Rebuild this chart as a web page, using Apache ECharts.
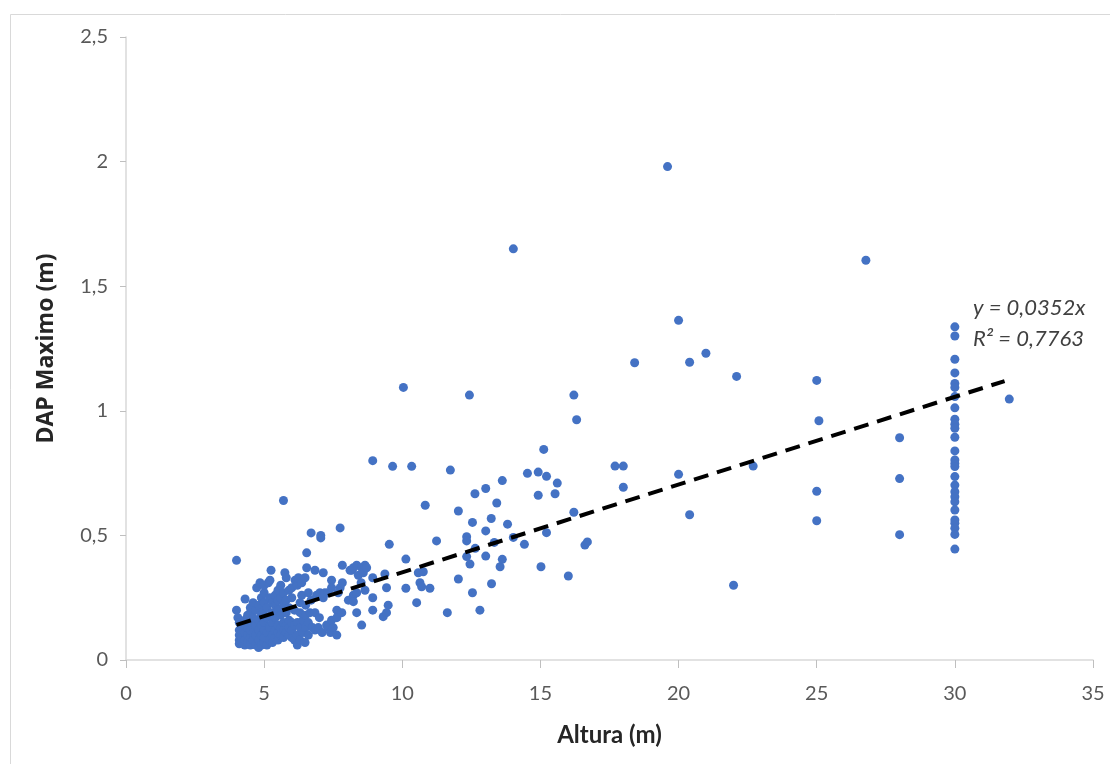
<!DOCTYPE html>
<html>
<head>
<meta charset="utf-8">
<script src="https://cdn.jsdelivr.net/npm/echarts@6/dist/echarts.min.js"></script>
<style>
  html, body { margin: 0; padding: 0; background: #fff; }
  #chart { width: 1110px; height: 764px; }
</style>
</head>
<body>
<div id="chart"></div>
<script>
// altura (m), dap maximo (m)
var pontosDensos = [
  [4.0,0.40],[4.0,0.20],[4.05,0.17],[4.1,0.15],[4.1,0.12],[4.1,0.10],[4.1,0.08],[4.1,0.065],
  [4.2,0.07],[4.2,0.09],[4.2,0.11],[4.2,0.13],[4.3,0.16],[4.31,0.245],[4.3,0.06],[4.3,0.08],[4.3,0.11],[4.3,0.14],
  [4.4,0.07],[4.4,0.10],[4.4,0.13],[4.4,0.18],[4.5,0.06],[4.5,0.09],[4.5,0.12],[4.5,0.15],[4.5,0.19],[4.5,0.21],
  [4.6,0.08],[4.6,0.11],[4.6,0.17],[4.6,0.23],[4.7,0.06],[4.7,0.10],[4.7,0.14],[4.7,0.20],[4.73,0.29],
  [4.8,0.05],[4.8,0.08],[4.8,0.12],[4.8,0.16],[4.8,0.22],[4.85,0.31],[4.9,0.06],[4.9,0.10],[4.9,0.14],[4.9,0.18],[4.9,0.25],
  [5.0,0.07],[5.0,0.09],[5.0,0.12],[5.0,0.15],[5.0,0.20],[5.0,0.23],[5.0,0.27],[5.0,0.30],
  [5.1,0.06],[5.1,0.11],[5.1,0.17],[5.1,0.21],[5.15,0.31],[5.2,0.08],[5.2,0.13],[5.2,0.25],[5.21,0.32],[5.25,0.36],
  [5.3,0.07],[5.3,0.10],[5.3,0.15],[5.3,0.19],[5.3,0.23],[5.4,0.09],[5.4,0.12],[5.4,0.17],[5.4,0.22],[5.4,0.26],
  [5.5,0.08],[5.5,0.11],[5.5,0.14],[5.5,0.20],[5.5,0.24],[5.5,0.28],[5.6,0.10],[5.6,0.13],[5.6,0.18],[5.6,0.25],[5.6,0.30],
  [5.7,0.64],[5.7,0.09],[5.7,0.12],[5.7,0.15],[5.7,0.22],[5.7,0.27],[5.75,0.35],
  [5.8,0.11],[5.8,0.14],[5.8,0.19],[5.8,0.24],[5.8,0.33],[5.9,0.10],[5.9,0.13],[5.9,0.16],[5.9,0.21],[5.9,0.28],
  [6.0,0.09],[6.0,0.12],[6.0,0.15],[6.0,0.25],[6.0,0.29],[6.1,0.08],[6.1,0.14],[6.1,0.20],[6.12,0.32],[6.2,0.06],
  [6.2,0.10],[6.2,0.15],[6.2,0.30],[6.24,0.33],[6.3,0.08],[6.3,0.13],[6.3,0.19],[6.3,0.23],[6.36,0.31],[6.36,0.26],
  [6.4,0.11],[6.4,0.16],[6.48,0.07],[6.5,0.13],[6.5,0.18],[6.5,0.22],[6.48,0.33],[6.54,0.37],[6.54,0.43],
  [6.6,0.10],[6.6,0.15],[6.6,0.27],[6.66,0.19],[6.7,0.51],[6.7,0.24],[6.75,0.13],[6.84,0.36],[6.84,0.19],[6.84,0.12],
  [6.9,0.26],[6.96,0.13],[7.0,0.17],[7.02,0.27],[7.05,0.50],[7.05,0.49],[7.1,0.11],[7.14,0.35],[7.14,0.25],
  [7.2,0.27],[7.26,0.14],[7.32,0.27],[7.32,0.13],[7.4,0.11],[7.44,0.32],[7.44,0.29],[7.44,0.16],[7.5,0.13],
  [7.63,0.20],[7.63,0.17],[7.63,0.10],[7.68,0.27],[7.75,0.53],[7.75,0.29],[7.81,0.19],[7.83,0.38],[7.83,0.31]
];

var pontosMedios = [
  [8.05,0.24],[8.11,0.36],[8.17,0.36],[8.23,0.26],[8.23,0.37],[8.23,0.234],[8.35,0.38],[8.35,0.19],[8.35,0.27],
  [8.41,0.34],[8.51,0.31],[8.53,0.14],[8.53,0.37],[8.59,0.35],[8.65,0.38],[8.65,0.28],[8.71,0.37],
  [8.93,0.80],[8.93,0.33],[8.93,0.25],[8.93,0.20],[9.31,0.174],[9.37,0.345],[9.43,0.29],[9.43,0.19],
  [9.49,0.22],[9.53,0.464],[9.65,0.777],[10.04,1.094],[10.13,0.405],[10.13,0.288],[10.34,0.777],
  [10.52,0.23],[10.58,0.35],[10.64,0.31],[10.70,0.294],[10.76,0.354],[10.83,0.621],[11.0,0.288],
  [11.24,0.478],[11.63,0.19],[11.74,0.762],[12.03,0.598],[12.03,0.325],[12.33,0.495],[12.33,0.478],
  [12.33,0.415],[12.43,1.063],[12.45,0.385],[12.54,0.552],[12.54,0.27],[12.63,0.667],[12.64,0.448],
  [12.81,0.20],[13.02,0.688],[13.02,0.518],[13.02,0.417],[13.22,0.568],[13.23,0.306],[13.33,0.472],
  [13.42,0.63],[13.54,0.374],[13.62,0.72],[13.62,0.404],[13.81,0.545],[14.02,1.65],[14.02,0.492],
  [14.42,0.464],[14.53,0.749],[14.92,0.754],[14.92,0.661],[15.02,0.374],[15.12,0.845],[15.22,0.737],
  [15.22,0.511],[15.53,0.667],[15.61,0.710],[16.01,0.337],[16.21,1.063],[16.21,0.593],[16.31,0.964],
  [16.61,0.461],[16.70,0.474]
];

var pontosAltos = [
  [17.70,0.778],[18.0,0.778],[18.0,0.693],[18.41,1.193],[19.60,1.98],[20.0,1.363],[20.0,0.745],
  [20.40,1.195],[20.40,0.583],[20.99,1.231],[21.99,0.30],[22.10,1.138],[22.70,0.778],
  [25.0,1.122],[25.08,0.960],[25.0,0.677],[25.0,0.559],[26.78,1.604],
  [28.0,0.892],[28.0,0.728],[28.0,0.503],[31.97,1.047]
];

// coluna de 30 m
var dap30 = [1.337,1.300,1.207,1.152,1.110,1.094,1.057,1.012,0.966,0.946,0.930,0.894,0.839,0.803,
  0.789,0.776,0.736,0.702,0.675,0.655,0.635,0.602,0.562,0.549,0.529,0.504,0.445];

var inclinacao = 0.0352;
var trendX = [4, 31.8];
var xTicks = [0, 5, 10, 15, 20, 25, 30, 35];
var yTicks = [0, 0.5, 1, 1.5, 2, 2.5];

var todos = pontosDensos.concat(pontosMedios, pontosAltos, dap30.map(function (d) { return [30, d]; }));
var linha = trendX.map(function (x) { return [x, x * inclinacao]; });

var chart = echarts.init(document.getElementById('chart'));

var fonteEixo = { color: '#595959', fontSize: 20, fontFamily: 'Lato' };

chart.setOption({
  animation: false,
  backgroundColor: '#fff',
  grid: { left: 126, right: 17, top: 37, bottom: 104 },
  xAxis: {
    type: 'value',
    min: xTicks[0], max: xTicks[xTicks.length - 1], interval: 5,
    name: 'Altura (m)', nameLocation: 'middle', nameGap: 63,
    nameTextStyle: { color: '#262626', fontSize: 24, fontWeight: 'bold', fontFamily: 'Lato' },
    axisLine: { lineStyle: { color: '#d9d9d9', width: 1.5 } },
    axisTick: { show: true, length: 8, lineStyle: { color: '#bfbfbf' } },
    axisLabel: Object.assign({ margin: 24 }, fonteEixo),
    splitLine: { show: false }
  },
  yAxis: {
    type: 'value',
    min: yTicks[0], max: yTicks[yTicks.length - 1], interval: 0.5,
    name: 'DAP Maximo (m)', nameLocation: 'middle', nameGap: 68,
    nameTextStyle: { color: '#262626', fontSize: 23, fontWeight: 'bold', fontFamily: 'Open Sans' },
    axisLine: { show: true, lineStyle: { color: '#d9d9d9', width: 1.5 } },
    axisTick: { show: true, length: 6, lineStyle: { color: '#bfbfbf' } },
    axisLabel: Object.assign({ margin: 18, formatter: function (v) { return String(v).replace('.', ','); } }, fonteEixo),
    splitLine: { show: false }
  },
  graphic: [
    { type: 'rect', left: 8, top: 12, shape: { width: 1100, height: 760 },
      style: { fill: 'none', stroke: '#d9d9d9', lineWidth: 1 }, silent: true },
    { type: 'text', left: 973, top: 297,
      style: { text: 'y = 0,0352x', fill: '#404040', font: 'italic 22px Lato' } },
    { type: 'text', left: 973, top: 328,
      style: { text: 'R² = 0,7763', fill: '#404040', font: 'italic 22px Lato' } }
  ],
  series: [
    {
      type: 'scatter',
      data: todos,
      symbolSize: 9,
      itemStyle: { color: '#4472C4', opacity: 1 },
      z: 2
    },
    {
      type: 'line',
      data: linha,
      showSymbol: false,
      symbol: 'none',
      lineStyle: { color: '#000', width: 4, type: [15, 9] },
      z: 3
    }
  ]
});
</script>
</body>
</html>
